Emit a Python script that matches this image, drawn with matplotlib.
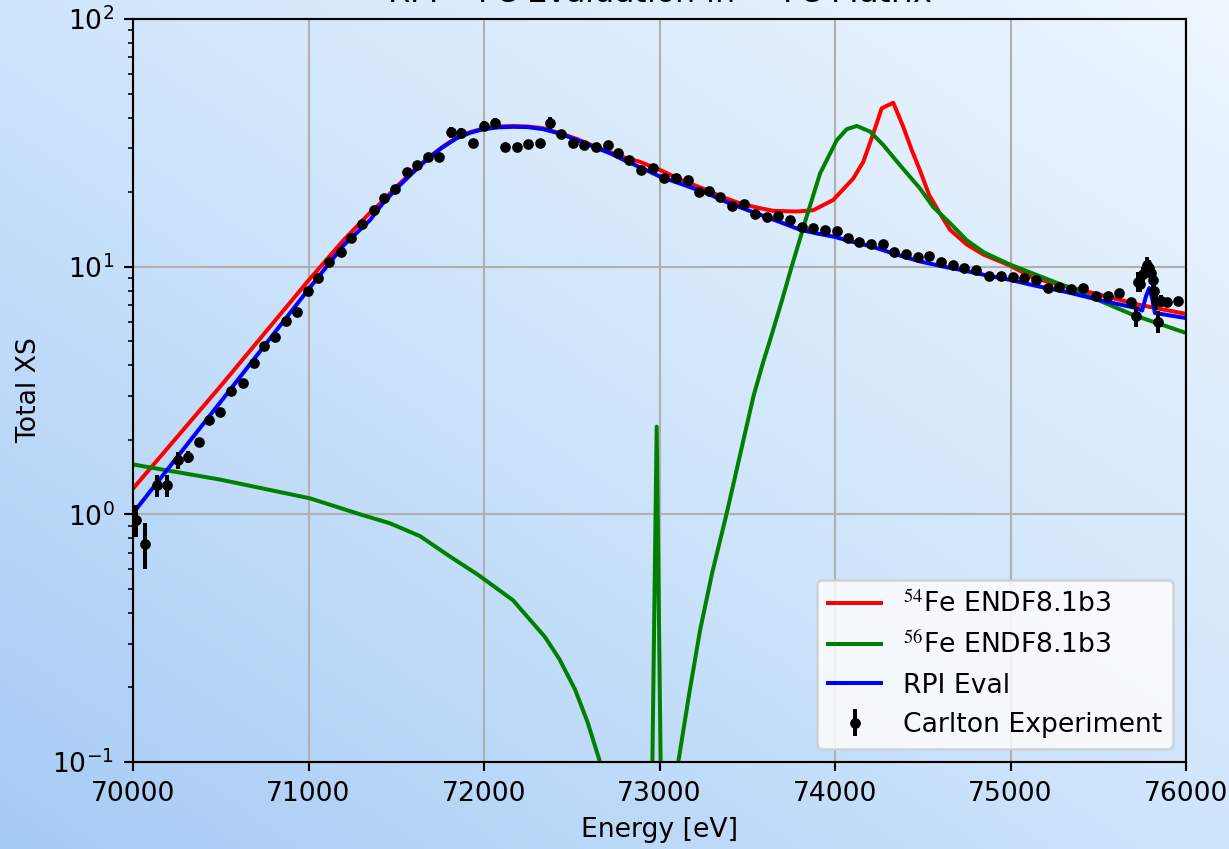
import numpy as np
import matplotlib
matplotlib.use("Agg")
import matplotlib.pyplot as plt
from matplotlib.colors import LinearSegmentedColormap

# ---------------- data ----------------
red_E = [70000, 70500, 71000, 71200, 71350, 71420, 71500, 71590, 71673, 71760,
         71844, 71920, 72000, 72080, 72167, 72250, 72338, 72430, 72528, 72620,
         72718, 72800, 72889, 73007, 73130, 73269, 73350, 73459, 73560, 73649,
         73782, 73876, 73990, 74104, 74161, 74219, 74266, 74332, 74389, 74437,
         74484, 74536, 74598, 74655, 74750, 74845, 74997, 75130, 75510, 75738,
         76000]
red_xs = [1.27, 3.3, 8.8, 12.8, 16.5, 18.3, 21.0, 24.1, 27.2, 30.3,
          33.2, 34.9, 36.2, 36.8, 37.0, 36.8, 36.2, 34.6, 32.8, 30.8,
          29.0, 27.6, 26.5, 24.5, 22.3, 20.4, 19.2, 18.0, 17.3, 16.8,
          16.7, 16.9, 18.6, 22.7, 26.5, 34.6, 43.6, 45.9, 36.7, 29.6,
          24.5, 19.5, 16.4, 14.1, 12.3, 11.2, 10.1, 9.0, 7.7, 7.0,
          6.45]

green_E = [70000, 70500, 71009, 71294, 71464, 71635, 71800, 71966, 72060, 72165,
           72347, 72430, 72519, 72590, 72661, 72800, 72950, 72984, 73015, 73060,
           73107, 73170, 73231, 73300, 73383, 73460, 73535, 73590, 73639, 73700,
           73753, 73838, 73915, 74010, 74067, 74124, 74200, 74275, 74370, 74484,
           74560, 74655, 74750, 74850, 74997, 75320, 75700, 76000]
green_xs = [1.59, 1.38, 1.16, 1.0, 0.92, 0.817, 0.68, 0.57, 0.51, 0.45,
            0.32, 0.26, 0.196, 0.145, 0.1, 0.03, 0.03, 2.26, 0.03, 0.03,
            0.1, 0.19, 0.34, 0.58, 1.01, 1.75, 2.99, 4.1, 5.3, 7.4,
            10.0, 15.9, 23.8, 32.4, 35.9, 37.0, 35.1, 31.0, 25.7, 20.7,
            17.4, 15.0, 12.8, 11.4, 10.2, 8.3, 6.38, 5.4]

blue_E = [70000, 70500, 71000, 71200, 71350, 71420, 71502, 71590, 71673, 71760,
          71844, 71920, 71996, 72080, 72167, 72250, 72338, 72430, 72528, 72620,
          72718, 72800, 72889, 73003, 73130, 73269, 73400, 73554, 73680, 73801,
          73900, 73997, 74100, 74219, 74350, 74484, 74620, 74750, 74870, 74997,
          75150, 75320, 75500, 75719, 75750, 75772, 75791, 75808, 75823, 76000]
blue_xs = [1.01, 2.85, 8.1, 12.2, 15.4, 17.9, 20.7, 23.8, 27.0, 30.2,
           33.0, 34.7, 35.9, 36.5, 36.7, 36.6, 35.9, 34.5, 32.5, 30.6,
           28.7, 26.9, 25.2, 23.1, 21.5, 19.8, 18.0, 16.4, 15.2, 14.1,
           13.6, 13.2, 12.6, 12.0, 11.2, 10.5, 10.0, 9.6, 9.2, 8.85,
           8.35, 7.9, 7.35, 6.8, 6.65, 7.6, 8.2, 7.4, 6.5, 6.2]

exp_E = [70017, 70068, 70135, 70192, 70258, 70315, 70378, 70433, 70496, 70557,
         70625, 70689, 70746, 70809, 70872, 70933, 70995, 71056, 71119, 71183,
         71240, 71305, 71373, 71430, 71493, 71560, 71616, 71683, 71745, 71810,
         71867, 71936, 72000, 72063, 72120, 72186, 72252, 72319, 72376, 72437,
         72505, 72571, 72638, 72705, 72762, 72828, 72895, 72961, 73026, 73094,
         73160, 73227, 73284, 73347, 73413, 73480, 73546, 73613, 73677, 73744,
         73810, 73875, 73941, 74010, 74074, 74139, 74207, 74275, 74338, 74405,
         74471, 74538, 74604, 74671, 74737, 74803, 74879, 74946, 75012, 75079,
         75145, 75212, 75278, 75345, 75415, 75487, 75554, 75620, 75687, 75715,
         75725, 75740, 75755, 75770, 75780, 75790, 75800, 75810, 75820, 75830,
         75840, 75855, 75890, 75956]
exp_xs = [0.95, 0.76, 1.31, 1.31, 1.66, 1.71, 1.96, 2.40, 2.60, 3.16,
          3.38, 4.07, 4.80, 5.22, 6.05, 6.58, 8.0, 8.97, 10.4, 11.5,
          13.1, 14.9, 16.9, 18.9, 20.5, 24.2, 25.7, 27.7, 27.8, 34.9,
          34.6, 31.7, 37.0, 37.9, 30.5, 30.5, 31.3, 31.5, 38.1, 34.3,
          31.5, 31.0, 30.5, 31.0, 28.7, 27.0, 24.6, 25.0, 22.8, 22.9,
          22.4, 20.1, 20.2, 19.1, 17.5, 17.9, 16.3, 15.8, 16.0, 15.4,
          14.5, 14.3, 14.1, 13.9, 13.1, 12.6, 12.4, 12.4, 11.5, 11.2,
          10.9, 11.0, 10.4, 10.2, 9.9, 9.7, 9.2, 9.2, 9.1, 9.0,
          8.84, 8.2, 8.3, 8.1, 8.2, 7.6, 7.6, 7.8, 7.2, 6.3,
          8.7, 8.5, 9.3, 9.8, 10.2, 9.9, 9.4, 8.8, 8.0, 7.3,
          6.0, 7.3, 7.2, 7.25]
exp_err = [0.14, 0.16, 0.13, 0.13, 0.13, 0.10, 0.07, 0.09, 0.08, 0.09,
           0.10, 0.10, 0.14, 0.12, 0.14, 0.15, 0.20, 0.20, 0.25, 0.25,
           0.3, 0.3, 0.4, 0.4, 0.5, 0.6, 0.6, 0.7, 0.7, 1.8,
           1.6, 1.0, 1.8, 2.0, 0.8, 0.8, 0.9, 1.0, 2.0, 1.4,
           0.8, 0.8, 0.8, 1.0, 0.7, 0.7, 0.6, 0.7, 0.5, 0.8,
           0.5, 0.5, 0.5, 0.4, 0.4, 0.4, 0.3, 0.3, 0.3, 0.3,
           0.3, 0.3, 0.3, 0.3, 0.25, 0.25, 0.25, 0.25, 0.2, 0.2,
           0.2, 0.2, 0.2, 0.2, 0.2, 0.2, 0.2, 0.2, 0.2, 0.2,
           0.2, 0.2, 0.2, 0.2, 0.2, 0.15, 0.15, 0.15, 0.15, 0.6,
           0.8, 0.6, 0.7, 0.7, 0.7, 0.7, 0.7, 0.7, 0.6, 0.6,
           0.6, 0.4, 0.15, 0.15]

labels = [r"$^{54}$Fe ENDF8.1b3", r"$^{56}$Fe ENDF8.1b3", "RPI Eval", "Carlton Experiment"]
title = r"RPI $^{54}$Fe Evaluation in $^{nat}$Fe Matrix"

# ---------------- figure ----------------
DPI = 192
fig = plt.figure(figsize=(1229 / DPI, 849 / DPI), dpi=DPI)

# gradient background
bg = fig.add_axes([0, 0, 1, 1], zorder=0)
u = np.linspace(0, 1, 300)[None, :]
v = np.linspace(0, 1, 200)[:, None]
grad = 0.5 * u + 0.5 * v
cmap = LinearSegmentedColormap.from_list("bg", ["#a6cbf4", "#cfe5fb", "#eef6fe"])
bg.imshow(grad, cmap=cmap, origin="lower", extent=[0, 1, 0, 1], aspect="auto", vmin=0, vmax=1)
bg.axis("off")

ax = fig.add_axes([133 / 1229, 1 - 762 / 849, (1186 - 133) / 1229, (762 - 19) / 849], zorder=1)
ax.set_facecolor("none")

ax.plot(red_E, red_xs, color="red", lw=1.5, label=labels[0])
ax.plot(green_E, green_xs, color="green", lw=1.5, label=labels[1])
ax.plot(blue_E, blue_xs, color="blue", lw=1.5, label=labels[2])
ax.errorbar(exp_E, exp_xs, yerr=exp_err, fmt="k.", label=labels[3])

ax.set_yscale("log")
ax.set_xlim(70000, 76000)
ax.set_ylim(0.1, 100)
ax.grid(True)
ax.set_xlabel("Energy [eV]")
ax.set_ylabel("Total XS")
ax.set_title(title)

leg = ax.legend(loc="lower right")
for t in leg.get_texts():
    t.set_math_fontfamily("stix")

fig.savefig("out.png", dpi=DPI)
